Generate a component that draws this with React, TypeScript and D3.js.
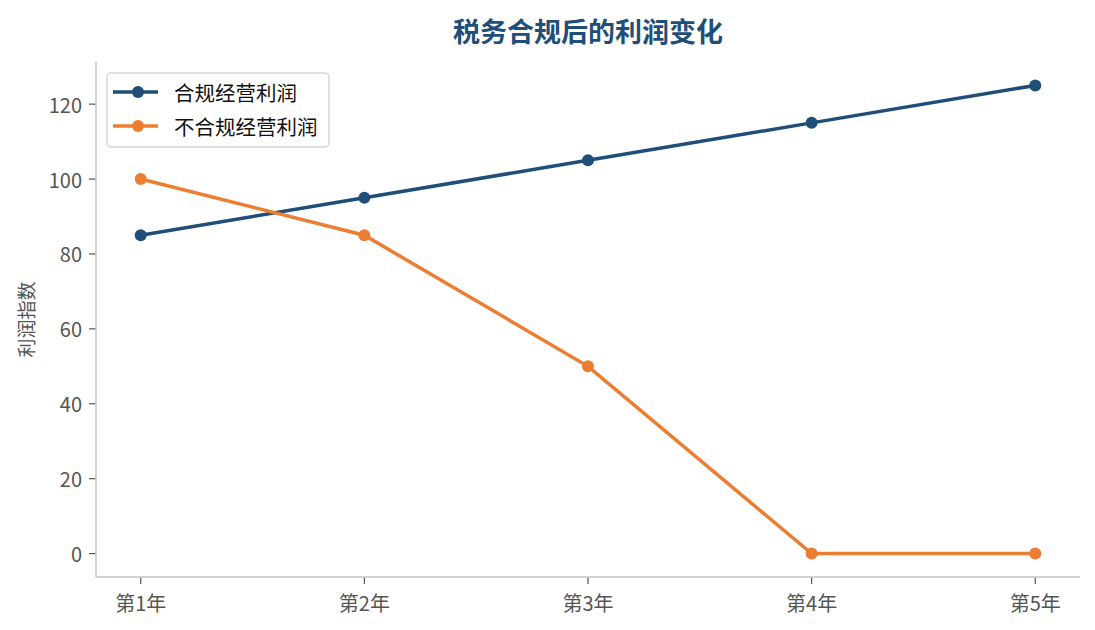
import React from 'react';
import * as d3 from 'd3';

const years = ['第1年', '第2年', '第3年', '第4年', '第5年'];
const compliantProfit = [85, 95, 105, 115, 125];
const nonCompliantProfit = [100, 85, 50, 0, 0];
const yTicks = [0, 20, 40, 60, 80, 100, 120];

const seriesList = [
    { name: '合规经营利润', values: compliantProfit, color: '#1f4e79' },
    { name: '不合规经营利润', values: nonCompliantProfit, color: '#ed7d31' },
];

const FONT = '"Noto Sans CJK SC", "Noto Sans", sans-serif';

const App: React.FC = () => {
    const width = 1095;
    const height = 630;
    const margin = { top: 62, right: 15, bottom: 53, left: 96 };
    const innerW = width - margin.left - margin.right;
    const innerH = height - margin.top - margin.bottom;

    const x = d3.scaleLinear().domain([-0.2, years.length - 1 + 0.2]).range([0, innerW]);
    const y = d3.scaleLinear().domain([-6.25, 131.25]).range([innerH, 0]);

    const line = d3
        .line<number>()
        .x((_d, i) => x(i))
        .y((d) => y(d));

    const spine = '#c4c4c4';
    const tickColor = '#555555';

    return (
        <div style={{ margin: -8 }}>
            <svg width={width} height={height} style={{ display: 'block', fontFamily: FONT }}>
                <rect width={width} height={height} fill="#ffffff" />
                <text
                    x={margin.left + innerW / 2}
                    y={30}
                    dominantBaseline="central"
                    textAnchor="middle"
                    fontSize={27}
                    fontWeight="bold"
                    fill="#1f4e79"
                >
                    税务合规后的利润变化
                </text>
                <g transform={`translate(${margin.left},${margin.top})`}>
                    {/* y axis */}
                    {yTicks.map((t) => (
                        <g key={t} transform={`translate(0,${y(t)})`}>
                            <line x1={-7} x2={0} stroke={tickColor} strokeWidth={1.2} />
                            <text x={-14} dominantBaseline="central" textAnchor="end" fontSize={20} fill={tickColor}>
                                {t}
                            </text>
                        </g>
                    ))}
                    {/* x axis */}
                    {years.map((yr, i) => (
                        <g key={yr} transform={`translate(${x(i)},${innerH})`}>
                            <line y1={0} y2={7} stroke={tickColor} strokeWidth={1.2} />
                            <text y={25} dominantBaseline="central" textAnchor="middle" fontSize={20} fill={tickColor}>
                                {yr}
                            </text>
                        </g>
                    ))}
                    <line x1={0} x2={0} y1={0} y2={innerH} stroke={spine} strokeWidth={1.5} />
                    <line x1={0} x2={innerW} y1={innerH} y2={innerH} stroke={spine} strokeWidth={1.5} />
                    <text
                        transform={`translate(${25 - margin.left},${innerH / 2}) rotate(-90)`}
                        dominantBaseline="central"
                        textAnchor="middle"
                        fontSize={19}
                        fill={tickColor}
                    >
                        利润指数
                    </text>

                    {seriesList.map((s) => (
                        <g key={s.name}>
                            <path d={line(s.values) || ''} fill="none" stroke={s.color} strokeWidth={3.5} />
                            {s.values.map((v, i) => (
                                <circle key={i} cx={x(i)} cy={y(v)} r={6} fill={s.color} />
                            ))}
                        </g>
                    ))}

                    {/* legend */}
                    <g transform="translate(11,11)">
                        <rect
                            width={222}
                            height={74}
                            rx={4}
                            fill="#ffffff"
                            fillOpacity={0.8}
                            stroke="#d6d6d6"
                            strokeWidth={1.5}
                        />
                        {seriesList.map((s, i) => (
                            <g key={s.name} transform={`translate(0,${19 + i * 34})`}>
                                <line x1={6} x2={51} stroke={s.color} strokeWidth={3.5} />
                                <circle cx={31} cy={0} r={6} fill={s.color} />
                                <text x={67} dominantBaseline="central" fontSize={20.5} fill="#111111">
                                    {s.name}
                                </text>
                            </g>
                        ))}
                    </g>
                </g>
            </svg>
        </div>
    );
};

export default App;
